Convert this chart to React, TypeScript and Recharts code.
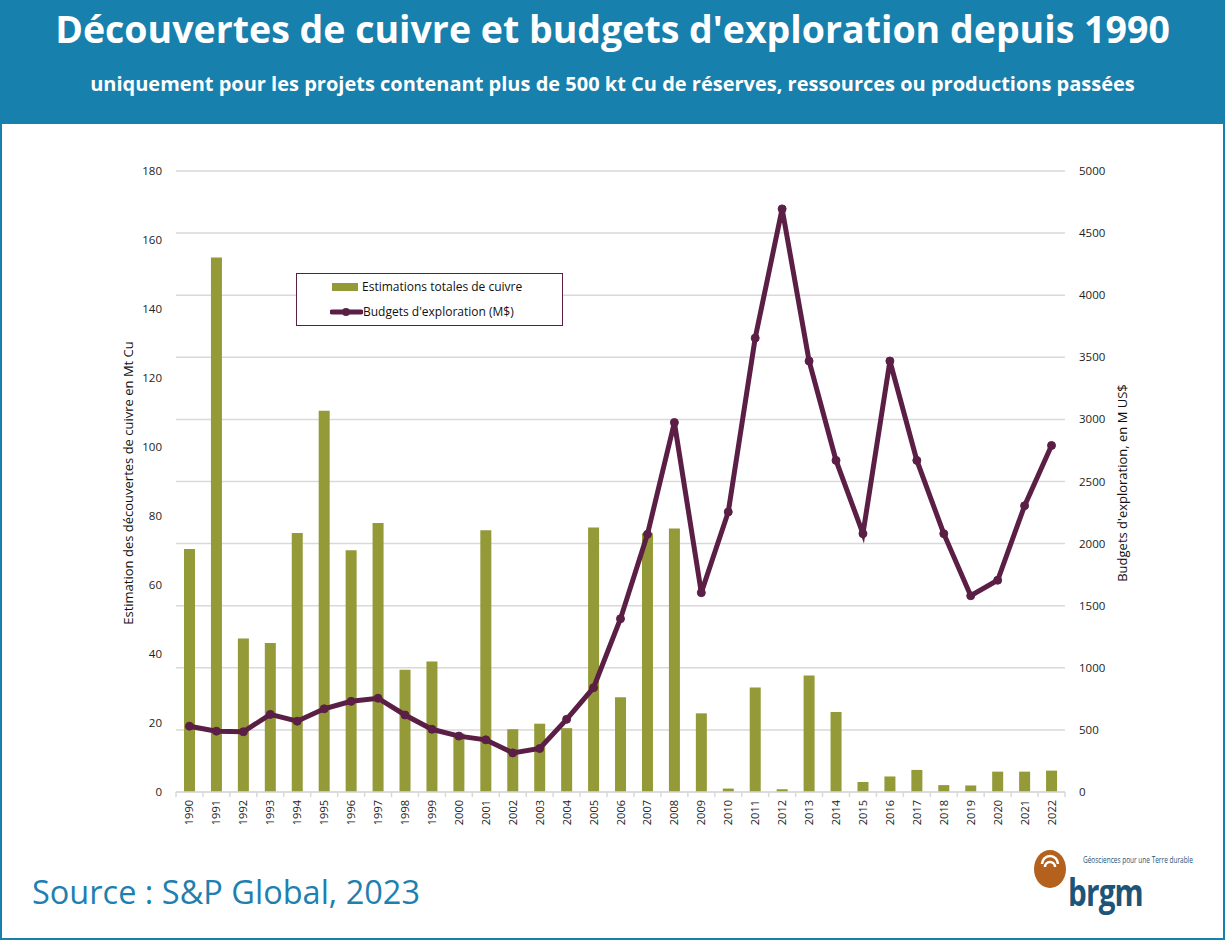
import { ComposedChart, Bar, Line, XAxis, YAxis, CartesianGrid, Legend } from 'recharts';

const years = ['1990', '1991', '1992', '1993', '1994', '1995', '1996', '1997', '1998', '1999', '2000', '2001', '2002', '2003', '2004', '2005', '2006', '2007', '2008', '2009', '2010', '2011', '2012', '2013', '2014', '2015', '2016', '2017', '2018', '2019', '2020', '2021', '2022'];
// Mt Cu discovered
const copper = [70.4, 154.9, 44.5, 43.2, 75.1, 110.5, 70.1, 78, 35.4, 37.8, 17, 75.9, 18.2, 19.8, 18.5, 76.7, 27.5, 75, 76.4, 22.8, 1.0, 30.3, 0.8, 33.8, 23.2, 2.9, 4.5, 6.4, 2.0, 1.9, 5.9, 5.9, 6.2];
// M US$
const budgets = [530, 490, 485, 625, 570, 670, 730, 755, 620, 505, 450, 420, 315, 350, 585, 840, 1395, 2075, 2975, 1605, 2255, 3655, 4695, 3470, 2670, 2080, 3470, 2670, 2080, 1580, 1705, 2305, 2790];
const leftTicks = [0, 20, 40, 60, 80, 100, 120, 140, 160, 180];
const rightTicks = [0, 500, 1000, 1500, 2000, 2500, 3000, 3500, 4000, 4500, 5000];

const BLUE = '#1780ad';
const GREEN = '#939a37';
const PURPLE = '#5b1f46';
const FONT = '"Open Sans", sans-serif';

const PLOT_LEFT = 176;
const PLOT_RIGHT = 1065;
const HALF_BAND = (PLOT_RIGHT - PLOT_LEFT) / years.length / 2;

const data = years.map((y, i) => ({ year: y, copper: copper[i], budget: budgets[i] }));

function YearTick(props: any) {
  const { x, y, payload, index } = props;
  return (
    <g>
      <line x1={x - HALF_BAND} x2={x - HALF_BAND} y1={y} y2={y + 5} stroke="#d9d9d9" strokeWidth={1.5} />
      {index === years.length - 1 && (
        <line x1={x + HALF_BAND} x2={x + HALF_BAND} y1={y} y2={y + 5} stroke="#d9d9d9" strokeWidth={1.5} />
      )}
      <text
        transform={`translate(${x + 4},${y + 8}) rotate(-90)`}
        textAnchor="end"
        fontSize={11}
        fontFamily={FONT}
        fill="#222"
      >
        {payload.value}
      </text>
    </g>
  );
}

function LegendBox({ payload }: any) {
  // bar entry first, then the line
  const items = [...(payload || [])].sort((a: any, b: any) => (a.type === 'line' ? 1 : 0) - (b.type === 'line' ? 1 : 0));
  return (
    <div style={{ border: `1.5px solid ${PURPLE}`, background: '#fff', width: 267, height: 53, boxSizing: 'border-box', fontFamily: FONT, fontSize: 12, color: '#111' }}>
      {items.map((p: any) => (
        <div key={p.value} style={{ display: 'flex', alignItems: 'center', height: 25 }}>
          {p.type !== 'line' ? (
            <span style={{ display: 'inline-block', width: 26, height: 8, background: GREEN, marginLeft: 35, marginRight: 4 }} />
          ) : (
            <svg width={33} height={10} style={{ marginLeft: 33 }}>
              <line x1={2} x2={31} y1={5} y2={5} stroke={PURPLE} strokeWidth={5} strokeLinecap="round" />
              <circle cx={16} cy={5} r={4} fill={PURPLE} />
            </svg>
          )}
          <span>{p.value}</span>
        </div>
      ))}
    </div>
  );
}

export default function App() {
  return (
    <div style={{ position: 'absolute', left: 0, top: 0, width: 1225, height: 940, background: '#fff', border: `2px solid ${BLUE}`, boxSizing: 'border-box', overflow: 'hidden' }}>
      <div style={{ position: 'absolute', left: 0, top: 0, width: 1225, height: 122, background: BLUE }} />
      <div style={{ position: 'absolute', left: 0, top: 1, width: 1221, textAlign: 'center', color: '#fff', fontFamily: FONT, fontWeight: 700, fontSize: 37.5, whiteSpace: 'nowrap' }}>
        Découvertes de cuivre et budgets d'exploration depuis 1990
      </div>
      <div style={{ position: 'absolute', left: 0, top: 68, width: 1221, textAlign: 'center', color: '#fff', fontFamily: FONT, fontWeight: 700, fontSize: 20, whiteSpace: 'nowrap' }}>
        uniquement pour les projets contenant plus de 500 kt Cu de réserves, ressources ou productions passées
      </div>

      <div style={{ position: 'absolute', left: -2, top: -2 }}>
        <ComposedChart width={1225} height={940} data={data} margin={{ top: 171, right: 100, bottom: 103, left: 116 }}>
          <CartesianGrid yAxisId="right" vertical={false} stroke="#d9d9d9" strokeWidth={1.5} />
          <XAxis
            dataKey="year"
            height={45}
            interval={0}
            tickLine={false}
            tickSize={0}
            tickMargin={0}
            axisLine={{ stroke: '#d9d9d9', strokeWidth: 1.5 }}
            tick={<YearTick />}
          />
          <YAxis
            yAxisId="left"
            width={60}
            domain={[0, 180]}
            ticks={leftTicks}
            interval={0}
            axisLine={false}
            tickLine={false}
            tickSize={0}
            tickMargin={14}
            tick={{ fontSize: 11.5, fill: '#222', fontFamily: FONT }}
          />
          <YAxis
            yAxisId="right"
            orientation="right"
            width={60}
            domain={[0, 5000]}
            ticks={rightTicks}
            interval={0}
            axisLine={false}
            tickLine={false}
            tickSize={0}
            tickMargin={14}
            tick={{ fontSize: 11.5, fill: '#222', fontFamily: FONT, textAnchor: 'start' }}
          />
          <Legend
            layout="horizontal"
            verticalAlign="middle"
            align="center"
            content={<LegendBox />}
            wrapperStyle={{ left: 296, top: 273, width: 267, height: 53 }}
          />
          <Bar yAxisId="left" dataKey="copper" name="Estimations totales de cuivre" fill={GREEN} barSize={11} isAnimationActive={false} />
          <Line
            yAxisId="right"
            dataKey="budget"
            name="Budgets d'exploration (M$)"
            stroke={PURPLE}
            strokeWidth={5}
            dot={{ r: 4, fill: PURPLE, stroke: PURPLE, strokeWidth: 1 }}
            activeDot={false}
            isAnimationActive={false}
          />
        </ComposedChart>
      </div>

      <div style={{ position: 'absolute', left: 126, top: 481, transform: 'translate(-50%, -50%) rotate(-90deg)', whiteSpace: 'nowrap', fontFamily: FONT, fontSize: 13, color: '#111' }}>
        Estimation des découvertes de cuivre en Mt Cu
      </div>
      <div style={{ position: 'absolute', left: 1120, top: 481, transform: 'translate(-50%, -50%) rotate(-90deg)', whiteSpace: 'nowrap', fontFamily: FONT, fontSize: 13, color: '#111' }}>
        Budgets d'exploration, en M US$
      </div>

      <div style={{ position: 'absolute', left: 30, top: 867, fontFamily: FONT, fontSize: 32.5, color: '#1e80b0', whiteSpace: 'nowrap' }}>
        Source : S&amp;P Global, 2023
      </div>

      <svg style={{ position: 'absolute', left: 1030, top: 846 }} width={40} height={42}>
        <ellipse cx={18} cy={21} rx={16} ry={19} fill="#b3611c" />
        <path d="M10 16 A8 8 0 0 1 26 16" stroke="#fff" strokeWidth={2.5} fill="none" />
        <path d="M13 19 A5 5 0 0 1 23 19" stroke="#fff" strokeWidth={2.5} fill="none" />
      </svg>
      <div style={{ position: 'absolute', left: 1081, top: 853, lineHeight: 1, fontFamily: FONT, fontSize: 9, color: '#1d5477', whiteSpace: 'nowrap', transform: 'scaleX(0.72)', transformOrigin: 'left center' }}>
        Géosciences pour une Terre durable
      </div>
      <div style={{ position: 'absolute', left: 1066, top: 870, lineHeight: 1, fontFamily: FONT, fontWeight: 700, fontSize: 38, color: '#1d5477', letterSpacing: -1, transform: 'scaleX(0.78)', transformOrigin: 'left center' }}>
        brgm
      </div>
    </div>
  );
}
